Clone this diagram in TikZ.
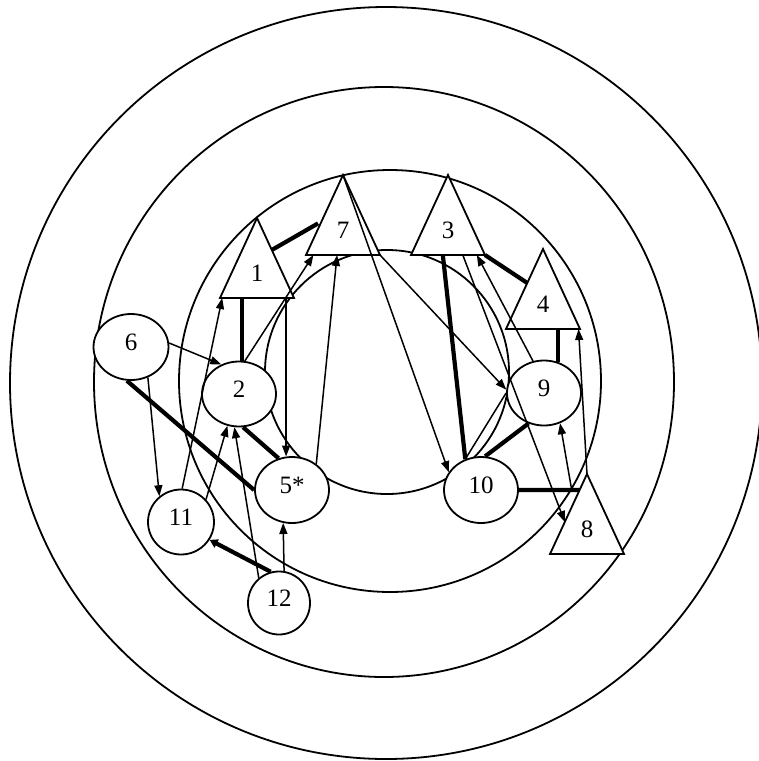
\documentclass[tikz,border=0pt]{standalone}
\usepackage{fontspec}
\setmainfont{Liberation Serif}
\usetikzlibrary{arrows.meta,calc,shapes.geometric}
\begin{document}
\begin{tikzpicture}[x=1pt,y=-1pt,
  ring/.style={line width=1.8pt},
  oval/.style={ellipse, draw, line width=1.8pt, fill=white, inner sep=0pt, text depth=10pt, font=\fontsize{25}{25}\selectfont},
  tri/.style={draw, line width=1.8pt, fill=white, line join=miter},
  lab/.style={inner sep=0pt, font=\fontsize{25}{25}\selectfont},
  arr/.style={line width=1.5pt, -{Triangle[length=11pt,width=8pt]}},
  ln/.style={line width=1.5pt},
  thk/.style={line width=4.2pt},
]
\useasboundingbox (0,0) rectangle (759,761);
\clip (0,0) rectangle (759,761);
% concentric rings
\draw[ring] (386,383) circle[radius=376];
\draw[ring] (384,382) ellipse[x radius=290,y radius=295];
\draw[ring] (390,381) circle[radius=211];
\draw[ring] (387,372) circle[radius=122];
% oval nodes
\node[oval, minimum width=75pt, minimum height=66pt] (n6) at (131,347) {6};
\node[oval, minimum width=74pt, minimum height=65pt] (n2) at (239,394) {2};
\node[oval, minimum width=74pt, minimum height=66pt] (n5) at (292,490) {5*};
\node[oval, minimum width=66pt, minimum height=65pt] (n11) at (181,522) {11};
\node[oval, minimum width=62pt, minimum height=63pt] (n12) at (279,603) {12};
\node[oval, minimum width=74pt, minimum height=65pt] (n9) at (544,393) {9};
\node[oval, minimum width=74pt, minimum height=66pt] (n10) at (481,490) {10};
% triangle nodes
\foreach \n/\x/\y/\t in {t1/257/218/1, t7/343/175/7, t3/448/175/3, t4/543/249/4, t8/587/474/8}{
  \coordinate (\n-a) at (\x,\y);
  \coordinate (\n-l) at (\x-37,\y+80);
  \coordinate (\n-r) at (\x+37,\y+80);
  \draw[tri] (\n-a) -- (\n-l) -- (\n-r) -- cycle;
  \node[lab] (\n) at (\x,\y+55) {\t};
}
% connectors, left part
\draw[arr] (n6.6) -- (n2.121);
\draw[arr] (n6.299) -- (n11.130);
\draw[thk] (n6.263) -- (n5.west);
\draw[thk] (n2.85) -- (n2.85 |- t1-l);
\draw[arr] (n2.80) -- ($(t7-l)!0.1!(t7-r)$);
\draw[arr] (n5.47) -- ($(t7-l)!0.42!(t7-r)$);
\draw[arr] (n11.88) -- ($(t1-l)!0.03!(t1-r)$);
\draw[arr] (n11.42) -- (n2.250);
\draw[arr] (n12.129) -- (n2.262);
\draw[arr] (n12.81) -- (n5.255);
\draw[thk, -{Triangle[length=8pt,width=9pt]}] (n12.105) -- (n11.328);
\draw[thk] (n2.277) -- (n5.113);
\draw[arr] (n5.100 |- t1-l) -- (n5.100);
\draw[thk, shorten >=4pt] ($(t1-a)!0.4!(t1-r)$) -- ($(t7-a)!0.58!(t7-l)$);
% connectors, right part
\draw[arr] (t7-a) -- (n10.151);
\draw[arr] (t7-r) -- (n9.175);
\draw[thk] ($(t3-l)!0.43!(t3-r)$) -- (n10.117);
\draw[arr] (n9.109) -- ($(t3-l)!0.89!(t3-r)$);
\draw[arr] ($(t3-l)!0.70!(t3-r)$) -- ($(t8-a)!0.6!(t8-l)$);
\draw[thk] (t3-r) -- ($(t4-a)!0.425!(t4-l)$);
\draw[thk] (n9.66) -- (n9.66 |- t4-l);
\draw[arr] (t8-a) -- ($(t4-l)!0.98!(t4-r)$);
\coordinate (e8) at ($(t8-a)!0.2!(t8-l)$);
\draw[thk] (n10.east) -- (e8);
\coordinate (j8) at ($(n10.east)!0.87!(e8)$);
\draw[arr] (j8) -- (n9.298);
\draw[thk] (n9.243) -- (n10.83);
\draw[ln] (n10.117) -- (n9.180);
\end{tikzpicture}
\end{document}
